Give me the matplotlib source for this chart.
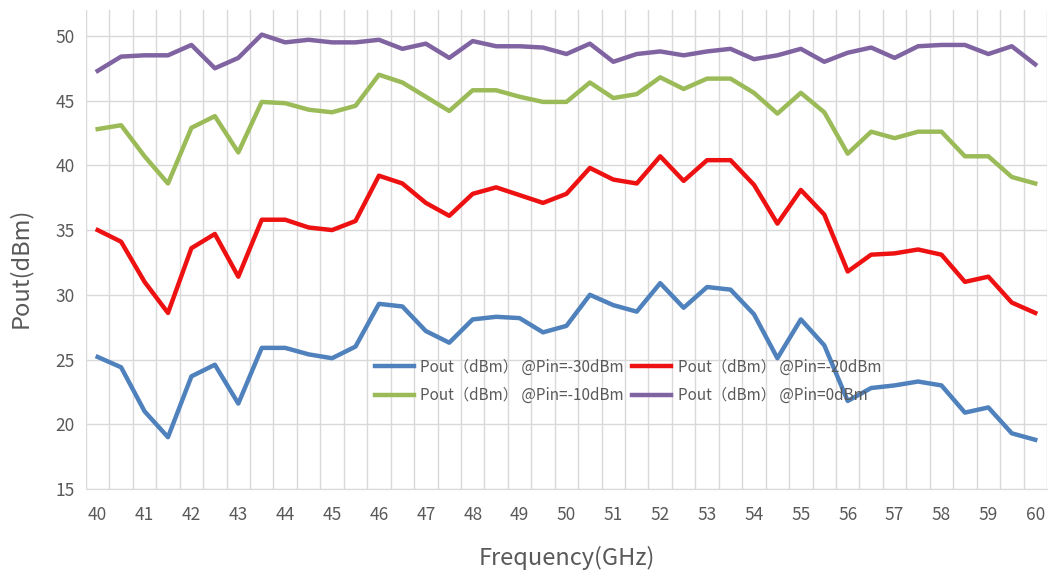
import matplotlib
matplotlib.use("Agg")
import matplotlib.pyplot as plt

plt.rcParams['font.family'] = ['Noto Sans CJK SC', 'DejaVu Sans']

# ---- data ----
freq = [40, 40.5, 41, 41.5, 42, 42.5, 43, 43.5, 44, 44.5, 45, 45.5, 46, 46.5,
        47, 47.5, 48, 48.5, 49, 49.5, 50, 50.5, 51, 51.5, 52, 52.5, 53, 53.5,
        54, 54.5, 55, 55.5, 56, 56.5, 57, 57.5, 58, 58.5, 59, 59.5, 60]

pout_m30 = [25.2, 24.4, 21.0, 19.0, 23.7, 24.6, 21.6, 25.9, 25.9, 25.4, 25.1,
            26.0, 29.3, 29.1, 27.2, 26.3, 28.1, 28.3, 28.2, 27.1, 27.6, 30.0,
            29.2, 28.7, 30.9, 29.0, 30.6, 30.4, 28.5, 25.1, 28.1, 26.1, 21.8,
            22.8, 23.0, 23.3, 23.0, 20.9, 21.3, 19.3, 18.8]

pout_m20 = [35.0, 34.1, 31.0, 28.6, 33.6, 34.7, 31.4, 35.8, 35.8, 35.2, 35.0,
            35.7, 39.2, 38.6, 37.1, 36.1, 37.8, 38.3, 37.7, 37.1, 37.8, 39.8,
            38.9, 38.6, 40.7, 38.8, 40.4, 40.4, 38.5, 35.5, 38.1, 36.2, 31.8,
            33.1, 33.2, 33.5, 33.1, 31.0, 31.4, 29.4, 28.6]

pout_m10 = [42.8, 43.1, 40.7, 38.6, 42.9, 43.8, 41.0, 44.9, 44.8, 44.3, 44.1,
            44.6, 47.0, 46.4, 45.3, 44.2, 45.8, 45.8, 45.3, 44.9, 44.9, 46.4,
            45.2, 45.5, 46.8, 45.9, 46.7, 46.7, 45.6, 44.0, 45.6, 44.1, 40.9,
            42.6, 42.1, 42.6, 42.6, 40.7, 40.7, 39.1, 38.6]

pout_0 = [47.3, 48.4, 48.5, 48.5, 49.3, 47.5, 48.3, 50.1, 49.5, 49.7, 49.5,
          49.5, 49.7, 49.0, 49.4, 48.3, 49.6, 49.2, 49.2, 49.1, 48.6, 49.4,
          48.0, 48.6, 48.8, 48.5, 48.8, 49.0, 48.2, 48.5, 49.0, 48.0, 48.7,
          49.1, 48.3, 49.2, 49.3, 49.3, 48.6, 49.2, 47.8]

labels = ['Pout（dBm） @Pin=-30dBm', 'Pout（dBm） @Pin=-20dBm',
          'Pout（dBm） @Pin=-10dBm', 'Pout（dBm） @Pin=0dBm']
xticks = list(range(40, 61))
yticks = [15, 20, 25, 30, 35, 40, 45, 50]

# ---- plot ----
fig = plt.figure(figsize=(10.52, 5.75), dpi=100)
ax = fig.add_axes([0.0817, 0.1496, 0.9135, 0.833])

grid_c = '#D9D9D9'
txt_c = '#595959'

l1, = ax.plot(freq, pout_m30, color='#4F81BD', lw=3.2, solid_joinstyle='round')
l2, = ax.plot(freq, pout_m20, color='#EE1111', lw=3.2, solid_joinstyle='round')
l3, = ax.plot(freq, pout_m10, color='#9BBB59', lw=3.2, solid_joinstyle='round')
l4, = ax.plot(freq, pout_0, color='#8064A2', lw=3.2, solid_joinstyle='round')

ax.set_xlim(39.75, 60.25)
ax.set_ylim(15, 52)
ax.set_xticks(xticks)
ax.set_yticks(yticks)

# category boundaries as vertical gridlines (Excel-style)
bounds = [39.75 + 0.5 * k for k in range(42)]
ax.set_xticks(bounds, minor=True)
ax.grid(True, axis='x', which='minor', color=grid_c, lw=1)
ax.grid(True, axis='y', which='major', color=grid_c, lw=1)
ax.set_axisbelow(True)

ax.tick_params(axis='both', which='both', length=0, labelsize=12.5, labelcolor=txt_c)
ax.tick_params(axis='x', pad=12)
ax.tick_params(axis='y', pad=8)

for s in ['top', 'right', 'left']:
    ax.spines[s].set_visible(False)
ax.spines['bottom'].set_color(grid_c)

ax.set_xlabel('Frequency(GHz)', fontsize=17, color=txt_c, labelpad=16)
ax.set_ylabel('Pout(dBm)', fontsize=17, color=txt_c)
ax.yaxis.set_label_coords(-0.056, 0.461)

leg = ax.legend([l1, l3, l2, l4], [labels[0], labels[2], labels[1], labels[3]],
                ncol=2, loc='upper left', bbox_to_anchor=(0.294, 0.285),
                frameon=False, fontsize=11, handlelength=2.6, handletextpad=0.4,
                columnspacing=0.5, labelspacing=0.75, borderaxespad=0)
for t in leg.get_texts():
    t.set_color(txt_c)

fig.savefig('out.png', dpi=100)
